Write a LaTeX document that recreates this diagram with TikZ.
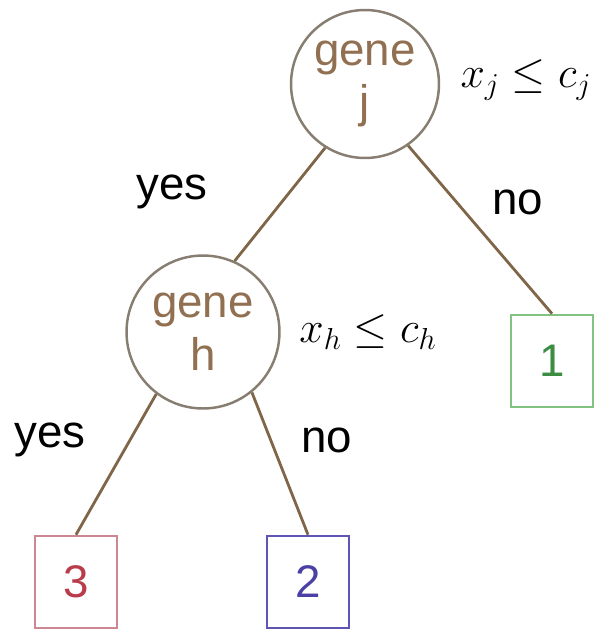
\documentclass[tikz,border=0pt]{standalone}
\usepackage{fontspec}
\setmainfont{Liberation Sans}
\usepackage{xcolor}
\definecolor{nodeline}{RGB}{135, 125, 112}
\definecolor{genetext}{RGB}{145, 112, 82}
\definecolor{branch}{RGB}{128, 102, 72}
\definecolor{leafgreen}{RGB}{130, 195, 130}
\definecolor{textgreen}{RGB}{60, 140, 65}
\definecolor{leafred}{RGB}{205, 135, 145}
\definecolor{textred}{RGB}{185, 60, 75}
\definecolor{leafblue}{RGB}{95, 85, 180}
\definecolor{textblue}{RGB}{75, 65, 165}
\usetikzlibrary{positioning}

\begin{document}
\begin{tikzpicture}[
  x=0.02cm, y=-0.02cm,
  genenode/.style={circle, draw=nodeline, line width=1.4pt, fill=white, text=genetext, align=center, inner sep=0pt, font=\fontsize{26}{30}\selectfont},
  leafbox/.style={rectangle, draw=#1, line width=1.5pt, fill=white, minimum width=1.64cm, minimum height=1.84cm, inner sep=0pt, font=\fontsize{26}{30}\selectfont},
  edge/.style={draw=branch, line width=1.6pt},
  answer/.style={font=\fontsize{26}{30}\selectfont},
  rule/.style={font=\fontsize{27}{30}\selectfont}
]
\useasboundingbox (0,0) rectangle (594,629);

% split nodes
\node[genenode, minimum size=2.96cm] (j) at (365,84) {gene\\j};
\node[genenode, minimum size=3.06cm] (h) at (203,332) {gene\\h};

% leaves
\node[leafbox=leafgreen, text=textgreen] (b1) at (552,361) {1};
\node[leafbox=leafred, text=textred] (b3) at (76,582) {3};
\node[leafbox=leafblue, text=textblue] (b2) at (308,582) {2};

% branches
\draw[edge] (j.238) -- (h.66);
\draw[edge] (j.305) -- (b1.north);
\draw[edge] (h.233) -- (b3.north);
\draw[edge] (h.309) -- (b2.north);

% labels
\node[rule] (rj) at (526,80) {$x_j \leq c_j$};
\node[rule] (rh) at (368,332) {$x_h \leq c_h$};
\node[answer] (yj) at (172,192) {yes};
\node[answer] (nj) at (518,202) {no};
\node[answer] (yh) at (50,440) {yes};
\node[answer] (nh) at (327,440) {no};
\end{tikzpicture}
\end{document}
